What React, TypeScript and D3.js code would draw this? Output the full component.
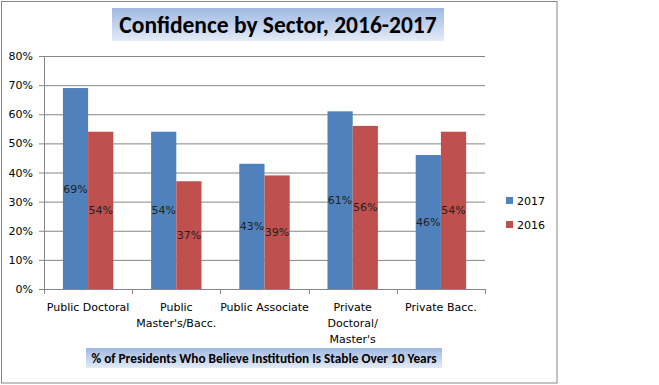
import * as d3 from 'd3';

const categories = [
  ['Public Doctoral'],
  ['Public', "Master's/Bacc."],
  ['Public Associate'],
  ['Private', 'Doctoral/', "Master's"],
  ['Private Bacc.'],
];
const seriesNames = ['2017', '2016'];
const values2017 = [69, 54, 43, 61, 46];
const values2016 = [54, 37, 39, 56, 54];
const yTicks = [0, 10, 20, 30, 40, 50, 60, 70, 80];
const colors = ['#4f81bd', '#c0504d'];

const W = 659;
const H = 385;
const plot = { left: 44, right: 485, top: 56, bottom: 289 };
const labelFont = 'Tahoma, "DejaVu Sans", Verdana, sans-serif';
const titleFont = 'Carlito, Lato, "Open Sans", sans-serif';

export default function App() {
  const series = [values2017, values2016];
  const x = d3
    .scaleBand<number>()
    .domain(d3.range(categories.length))
    .range([plot.left, plot.right])
    .paddingInner(0)
    .paddingOuter(0);
  const y = d3.scaleLinear().domain([0, 80]).range([plot.bottom, plot.top]);

  // bars take ~25px of each 88px category (gap width ~150%)
  const barW = x.bandwidth() / 3.5;
  const groupOffset = (x.bandwidth() - 2 * barW) / 2;

  return (
    <svg
      width={W}
      height={H}
      style={{ position: 'absolute', left: 0, top: 0, background: '#fff' }}
    >
      <defs>
        <linearGradient id="hdr" x1="0" y1="0" x2="0" y2="1">
          <stop offset="0%" stopColor="#9fb8e2" />
          <stop offset="100%" stopColor="#e3ebf6" />
        </linearGradient>
      </defs>
      <rect x={1.5} y={1.5} width={555.5} height={381.5} fill="#fff" stroke="#868686" />

      {/* title */}
      <rect x={112} y={8} width={332} height={33} fill="url(#hdr)" />
      <text
        x={278}
        y={33}
        textAnchor="middle"
        fontFamily={titleFont}
        fontWeight="bold"
        fontSize={23.5}
        fill="#000"
      >
        Confidence by Sector, 2016-2017
      </text>

      {/* gridlines + y axis */}
      {yTicks.map((t) => (
        <g key={t}>
          {t > 0 && (
            <line x1={plot.left} x2={plot.right} y1={y(t) + 0.5} y2={y(t) + 0.5} stroke="#868686" />
          )}
          <line x1={plot.left - 5} x2={plot.left} y1={y(t) + 0.5} y2={y(t) + 0.5} stroke="#868686" />
          <text
            x={33}
            y={y(t) + 4}
            textAnchor="end"
            fontFamily={labelFont}
            fontSize={11}
            fill="#000"
          >
            {t}%
          </text>
        </g>
      ))}
      <line x1={plot.left + 0.5} x2={plot.left + 0.5} y1={plot.top} y2={plot.bottom} stroke="#868686" />

      {/* bars */}
      {series.map((vals, s) =>
        vals.map((v, i) => {
          const bx = (x(i) ?? 0) + groupOffset + s * barW;
          return (
            <g key={`${s}-${i}`}>
              <rect x={bx} y={y(v)} width={barW} height={plot.bottom - y(v)} fill={colors[s]} />
              <text
                x={bx + barW / 2}
                y={(y(v) + plot.bottom) / 2 + 4}
                textAnchor="middle"
                fontFamily={labelFont}
                fontSize={11}
                fill="#1f1f1f"
              >
                {v}%
              </text>
            </g>
          );
        })
      )}

      {/* x axis */}
      <line x1={plot.left} x2={plot.right} y1={plot.bottom + 0.5} y2={plot.bottom + 0.5} stroke="#868686" />
      {d3.range(categories.length + 1).map((i) => {
        const tx = plot.left + i * x.bandwidth();
        return (
          <line
            key={i}
            x1={Math.round(tx) + 0.5}
            x2={Math.round(tx) + 0.5}
            y1={plot.bottom}
            y2={plot.bottom + 5}
            stroke="#868686"
          />
        );
      })}
      {categories.map((lines, i) => (
        <text
          key={i}
          x={(x(i) ?? 0) + x.bandwidth() / 2}
          y={311}
          textAnchor="middle"
          fontFamily={labelFont}
          fontSize={11}
          fill="#000"
        >
          {lines.map((l, j) => (
            <tspan key={j} x={(x(i) ?? 0) + x.bandwidth() / 2} dy={j === 0 ? 0 : 16}>
              {l}
            </tspan>
          ))}
        </text>
      ))}

      {/* subtitle */}
      <rect x={86} y={348} width={356} height={20} fill="url(#hdr)" />
      <text
        x={264}
        y={363}
        textAnchor="middle"
        fontFamily={titleFont}
        fontWeight="bold"
        fontSize={13.3}
        fill="#000"
      >
        % of Presidents Who Believe Institution Is Stable Over 10 Years
      </text>

      {/* legend */}
      {seriesNames.map((n, i) => (
        <g key={n} transform={`translate(506, ${197 + i * 24})`}>
          <rect width={7} height={7} fill={colors[i]} />
          <text x={11} y={8} fontFamily={labelFont} fontSize={11} fill="#000">
            {n}
          </text>
        </g>
      ))}
    </svg>
  );
}
